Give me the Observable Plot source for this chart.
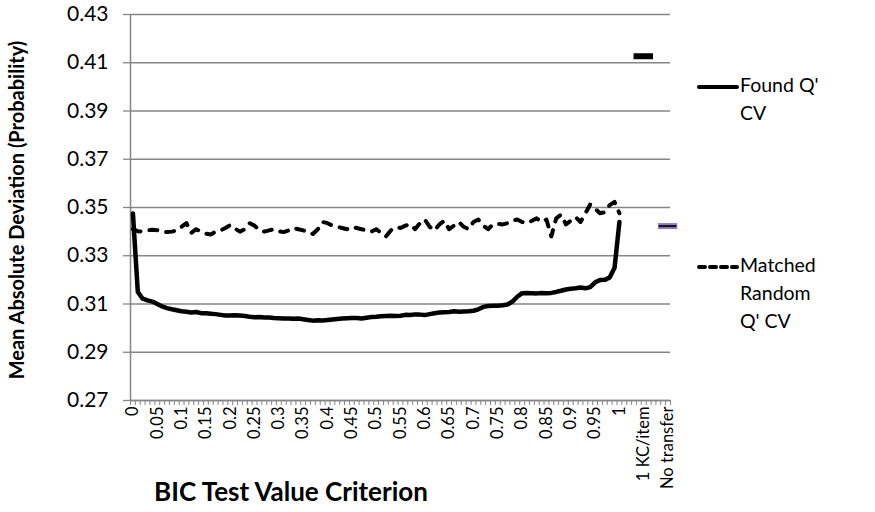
<!DOCTYPE html>
<html><head><meta charset="utf-8">
<script src="https://cdn.jsdelivr.net/npm/d3@7"></script>
<script src="https://cdn.jsdelivr.net/npm/@observablehq/plot@0.6"></script>
<style>body{margin:0;background:#fff;}#chart{width:875px;height:512px;}</style>
</head><body><div id="chart"></div>
<script>
// Category axis: BIC test value criterion 0 .. 1 step 0.01
const criterion = [0,0.01,0.02,0.03,0.04,0.05,0.06,0.07,0.08,0.09,0.1,0.11,0.12,0.13,0.14,0.15,0.16,0.17,0.18,0.19,0.2,0.21,0.22,0.23,0.24,0.25,0.26,0.27,0.28,0.29,0.3,0.31,0.32,0.33,0.34,0.35,0.36,0.37,0.38,0.39,0.4,0.41,0.42,0.43,0.44,0.45,0.46,0.47,0.48,0.49,0.5,0.51,0.52,0.53,0.54,0.55,0.56,0.57,0.58,0.59,0.6,0.61,0.62,0.63,0.64,0.65,0.66,0.67,0.68,0.69,0.7,0.71,0.72,0.73,0.74,0.75,0.76,0.77,0.78,0.79,0.8,0.81,0.82,0.83,0.84,0.85,0.86,0.87,0.88,0.89,0.9,0.91,0.92,0.93,0.94,0.95,0.96,0.97,0.98,0.99,1];
// Found Q' CV
const foundQ = [0.3475,0.3150,0.3122,0.3115,0.3110,0.3100,0.3090,0.3083,0.3078,0.3074,
0.3070,0.3068,0.3065,0.3067,0.3062,0.3062,0.3060,0.3058,0.3055,0.3052,
0.3052,0.3053,0.3052,0.3050,0.3047,0.3045,0.3046,0.3044,0.3044,0.3042,
0.3041,0.3040,0.3040,0.3039,0.3040,0.3037,0.3034,0.3031,0.3033,0.3032,
0.3034,0.3036,0.3038,0.3040,0.3041,0.3042,0.3042,0.3040,0.3043,0.3046,
0.3047,0.3049,0.3050,0.3051,0.3050,0.3051,0.3055,0.3054,0.3057,0.3056,
0.3054,0.3058,0.3062,0.3065,0.3066,0.3067,0.3070,0.3068,0.3069,0.3070,
0.3072,0.3078,0.3088,0.3092,0.3093,0.3093,0.3095,0.3098,0.3110,0.3130,
0.3145,0.3146,0.3145,0.3144,0.3146,0.3145,0.3146,0.3150,0.3155,0.3160,
0.3163,0.3165,0.3168,0.3165,0.3170,0.3190,0.3199,0.3200,0.3210,0.3250,
0.3440];
// Matched Random Q' CV
const matchedRandom = [0.3410,0.3402,0.3400,0.3405,0.3408,0.3406,0.3402,0.3398,0.3400,0.3405,
0.3420,0.3435,0.3395,0.3410,0.3400,0.3392,0.3388,0.3400,0.3405,0.3415,
0.3427,0.3412,0.3400,0.3410,0.3435,0.3425,0.3405,0.3400,0.3405,0.3410,
0.3402,0.3398,0.3405,0.3415,0.3410,0.3405,0.3400,0.3390,0.3410,0.3440,
0.3435,0.3425,0.3420,0.3415,0.3410,0.3420,0.3415,0.3410,0.3405,0.3400,
0.3410,0.3395,0.3380,0.3405,0.3418,0.3415,0.3425,0.3430,0.3410,0.3435,
0.3450,0.3420,0.3405,0.3430,0.3445,0.3410,0.3425,0.3440,0.3420,0.3410,
0.3440,0.3450,0.3425,0.3410,0.3430,0.3432,0.3430,0.3435,0.3445,0.3450,
0.3440,0.3435,0.3445,0.3455,0.3440,0.3450,0.3380,0.3455,0.3470,0.3430,
0.3445,0.3460,0.3440,0.3475,0.3513,0.3495,0.3476,0.3480,0.3510,0.3523,
0.3476];
// Extra categories
const extraCategories = ["1 KC/item","No transfer"];
const extraValues = [0.4127, 0.3423];
const extraColors = ["#000000","#8e7cc3"];
// Axis ticks
const yTicks = [0.27,0.29,0.31,0.33,0.35,0.37,0.39,0.41,0.43];
const xTickLabels = ["0","0.05","0.1","0.15","0.2","0.25","0.3","0.35","0.4","0.45","0.5","0.55","0.6","0.65","0.7","0.75","0.8","0.85","0.9","0.95","1","1 KC/item","No transfer"];
const legendItems = [["Found Q'","CV"],["Matched","Random","Q' CV"]];

const FONT = "Lato, 'Open Sans', sans-serif";
const nCat = criterion.length + 10; // 0..100, blanks, 105, 110
const foundData = criterion.map((c,i)=>({pos:i, v:foundQ[i]}));
const randomData = criterion.map((c,i)=>({pos:i, v:matchedRandom[i]}));
const extraData = extraCategories.map((c,k)=>({pos:criterion.length-1+5*(k+1), v:extraValues[k], color:extraColors[k]}));
const labelPos = xTickLabels.map((_,k)=>k*5);
const boundaries = d3.range(nCat+1).map(k=>k-0.5);

const plot = Plot.plot({
  width: 875, height: 512,
  marginLeft: 130, marginRight: 205, marginTop: 14, marginBottom: 112,
  x: {domain: [-0.5, nCat-0.5]},
  y: {domain: [0.27, 0.43]},
  style: {fontFamily: FONT, fontSize: "19px", color: "#000", background: "#fff"},
  marks: [
    Plot.gridY(yTicks, {stroke: "#868686", strokeOpacity: 1, strokeWidth: 1.3}),
    Plot.axisY(yTicks, {tickSize: 7, stroke: "#868686", strokeWidth: 1.3, tickPadding: 15, tickFormat: d => d.toFixed(2), label: null, fill: "#000", fontSize: 21}),
    Plot.axisX(boundaries, {tickSize: 5, stroke: "#868686", tickFormat: () => "", label: null}),
    Plot.axisX(labelPos, {tickSize: 0, tickRotate: -90, tickPadding: 6, tickFormat: d => xTickLabels[d/5], label: null, fill: "#000", fontSize: 16.5}),
    Plot.ruleX([-0.5], {stroke: "#868686", strokeWidth: 1.5}),
    Plot.ruleY([0.27], {stroke: "#868686", strokeWidth: 1.5}),
    Plot.line(randomData, {x: "pos", y: "v", stroke: "#000", strokeWidth: 4, strokeDasharray: "8,9", strokeLinecap: "round", strokeLinejoin: "round"}),
    Plot.line(foundData, {x: "pos", y: "v", stroke: "#000", strokeWidth: 4.5, strokeLinecap: "round", strokeLinejoin: "round"}),
    Plot.ruleY(extraData, {y: "v", x1: d => d.pos - 2, x2: d => d.pos + 2, stroke: "color", strokeWidth: 6}),
    Plot.ruleY(extraData.filter(d => d.color !== "#000000"), {y: "v", x1: d => d.pos - 1.8, x2: d => d.pos + 1.8, stroke: "#111", strokeWidth: 2})
  ]
});
document.getElementById("chart").appendChild(plot);

// Titles and legend
const svg = d3.select(plot);
svg.append("text").attr("transform", "translate(19,210) rotate(-90)")
  .attr("text-anchor", "middle").attr("dominant-baseline", "middle")
  .attr("font-family", FONT).attr("font-weight", "bold").attr("font-size", 20).attr("fill", "#000")
  .text("Mean Absolute Deviation (Probability)");
svg.append("text").attr("x", 291).attr("y", 494)
  .attr("text-anchor", "middle").attr("dominant-baseline", "middle")
  .attr("font-family", FONT).attr("font-weight", "bold").attr("font-size", 26).attr("fill", "#000")
  .text("BIC Test Value Criterion");

const legendY = [87, 267];
const lineH = 28;
legendItems.forEach((lines, k) => {
  const g = svg.append("g");
  g.append("line").attr("x1", 699).attr("x2", 737).attr("y1", legendY[k]).attr("y2", legendY[k])
    .attr("stroke", "#000").attr("stroke-width", 4).attr("stroke-linecap", "round")
    .attr("stroke-dasharray", k === 1 ? "6,5" : null);
  lines.forEach((t, j) => {
    g.append("text").attr("x", 740).attr("y", legendY[k] + j*lineH)
      .attr("text-anchor", "start")
      .attr("dominant-baseline", "middle").attr("font-family", FONT).attr("font-size", 19.5).attr("fill", "#000")
      .text(t);
  });
});
</script>
</body></html>
